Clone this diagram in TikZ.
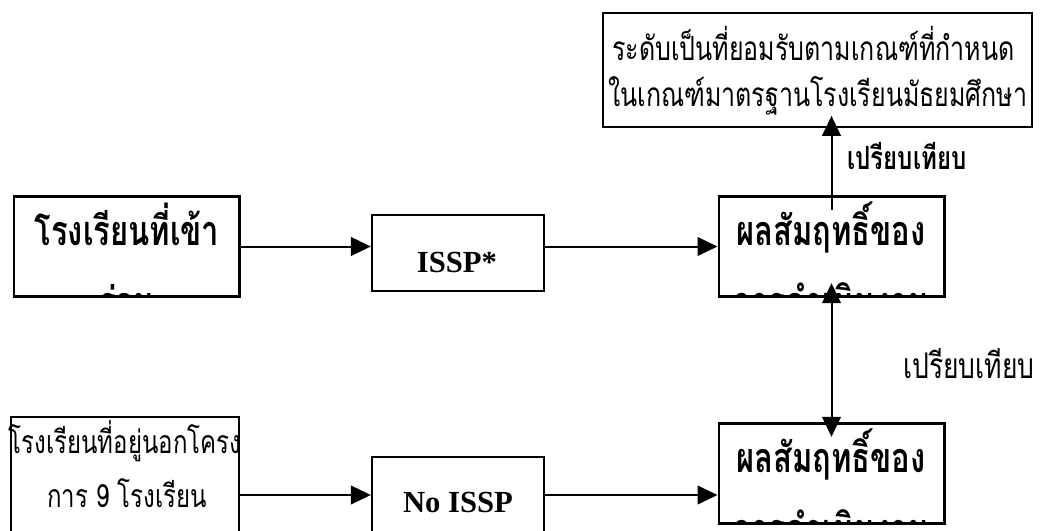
\documentclass[tikz,border=0pt]{standalone}
\usepackage{fontspec}
\setmainfont{Liberation Serif}
\newfontfamily\thaifont[Script=Thai, FakeStretch=0.75]{Loma}
\usetikzlibrary{arrows.meta}

\begin{document}
\begin{tikzpicture}[x=0.75pt, y=-0.75pt,
    box/.style={draw, line width=1.3pt, inner sep=0pt},
    heavy box/.style={box, line width=2pt, minimum width=169pt, minimum height=75pt},
    mid box/.style={box, line width=1.7pt, minimum width=129pt, minimum height=57pt},
    flow/.style={line width=1.5pt, -{Triangle[length=15pt,width=14pt]}},
    both flow/.style={line width=1.5pt, {Triangle[length=15pt,width=14pt]}-{Triangle[length=15pt,width=14pt]}},
    headline/.style={font=\thaifont\bfseries\fontsize{31}{36}\selectfont, inner sep=0pt, anchor=base},
    plain/.style={font=\thaifont\fontsize{25}{30}\selectfont, inner sep=0pt, anchor=base},
    latin/.style={font=\bfseries\fontsize{23}{27}\selectfont, inner sep=0pt, anchor=base}]

  \useasboundingbox (0,0) rectangle (1042,531);
  \clip (0,0) rectangle (1042,531);

  % boxes
  \node[box, minimum width=321.75pt, minimum height=85.5pt] (goal) at (817.5,70) {};
  \node[heavy box] (joined) at (126.5,246.5) {};
  \node[mid box] (issp) at (458,253) {};
  \node[heavy box] (res1) at (831.5,246.5) {};
  \node[box, minimum width=171pt, minimum height=117pt] (outside) at (125,495) {};
  \node[mid box] (noissp) at (458,495) {};
  \node[heavy box] (res2) at (831.5,473.5) {};

  % texts
  \node[plain, anchor=base west] (goalone) at (612,61) {ระดับเป็นที่ยอมรับตามเกณฑ์ที่กำหนด};
  \node[plain, anchor=base west] (goaltwo) at (608,107) {ในเกณฑ์มาตรฐานโรงเรียนมัธยมศึกษา};
  \begin{scope}
    \clip (joined.south west) rectangle (joined.north east);
    \node[headline] (joinedone) at (127,245) {โรงเรียนที่เข้า};
    \node[headline] (joinedtwo) at (127,316) {ร่วม};
  \end{scope}
  \node[latin] (issptext) at (457,272) {ISSP*};
  \begin{scope}
    \clip (res1.south west) rectangle (res1.north east);
    \node[headline] (resonea) at (831,245) {ผลสัมฤทธิ์ของ};
    \node[headline] (resoneb) at (831,316) {การดำเนินงาน};
  \end{scope}
  \node[plain, font=\thaifont\fontsize{24}{28}\selectfont] (outsideone) at (125,453) {โรงเรียนที่อยู่นอกโครง};
  \node[plain, font=\thaifont\fontsize{24}{28}\selectfont] (outsidetwo) at (127,507) {การ 9 โรงเรียน};
  \node[latin] (noissptext) at (458,512) {No ISSP};
  \begin{scope}
    \clip (res2.south west) rectangle (res2.north east);
    \node[headline] (restwoa) at (831,472) {ผลสัมฤทธิ์ของ};
    \node[headline] (restwob) at (831,543) {การดำเนินงาน};
  \end{scope}
  \node[plain, font=\thaifont\bfseries\fontsize{24}{28}\selectfont] (cmpup) at (907,170) {เปรียบเทียบ};
  \node[plain, font=\thaifont\fontsize{26.5}{30}\selectfont] (cmpside) at (969,378) {เปรียบเทียบ};

  % connectors
  \draw[flow] (joined.east) -- (joined.east -| issp.west);
  \draw[flow] (issp.east |- res1.west) -- (res1.west);
  \draw[flow, shorten <=-11pt, shorten >=-9pt] (res1.north) -- (res1.north |- goal.south);
  \draw[both flow, shorten <=-11pt, shorten >=-11pt] (res1.south) -- (res2.north);
  \draw[flow] (outside.east) -- (noissp.west);
  \draw[flow] (noissp.east) -- (noissp.east -| res2.west);
\end{tikzpicture}
\end{document}
